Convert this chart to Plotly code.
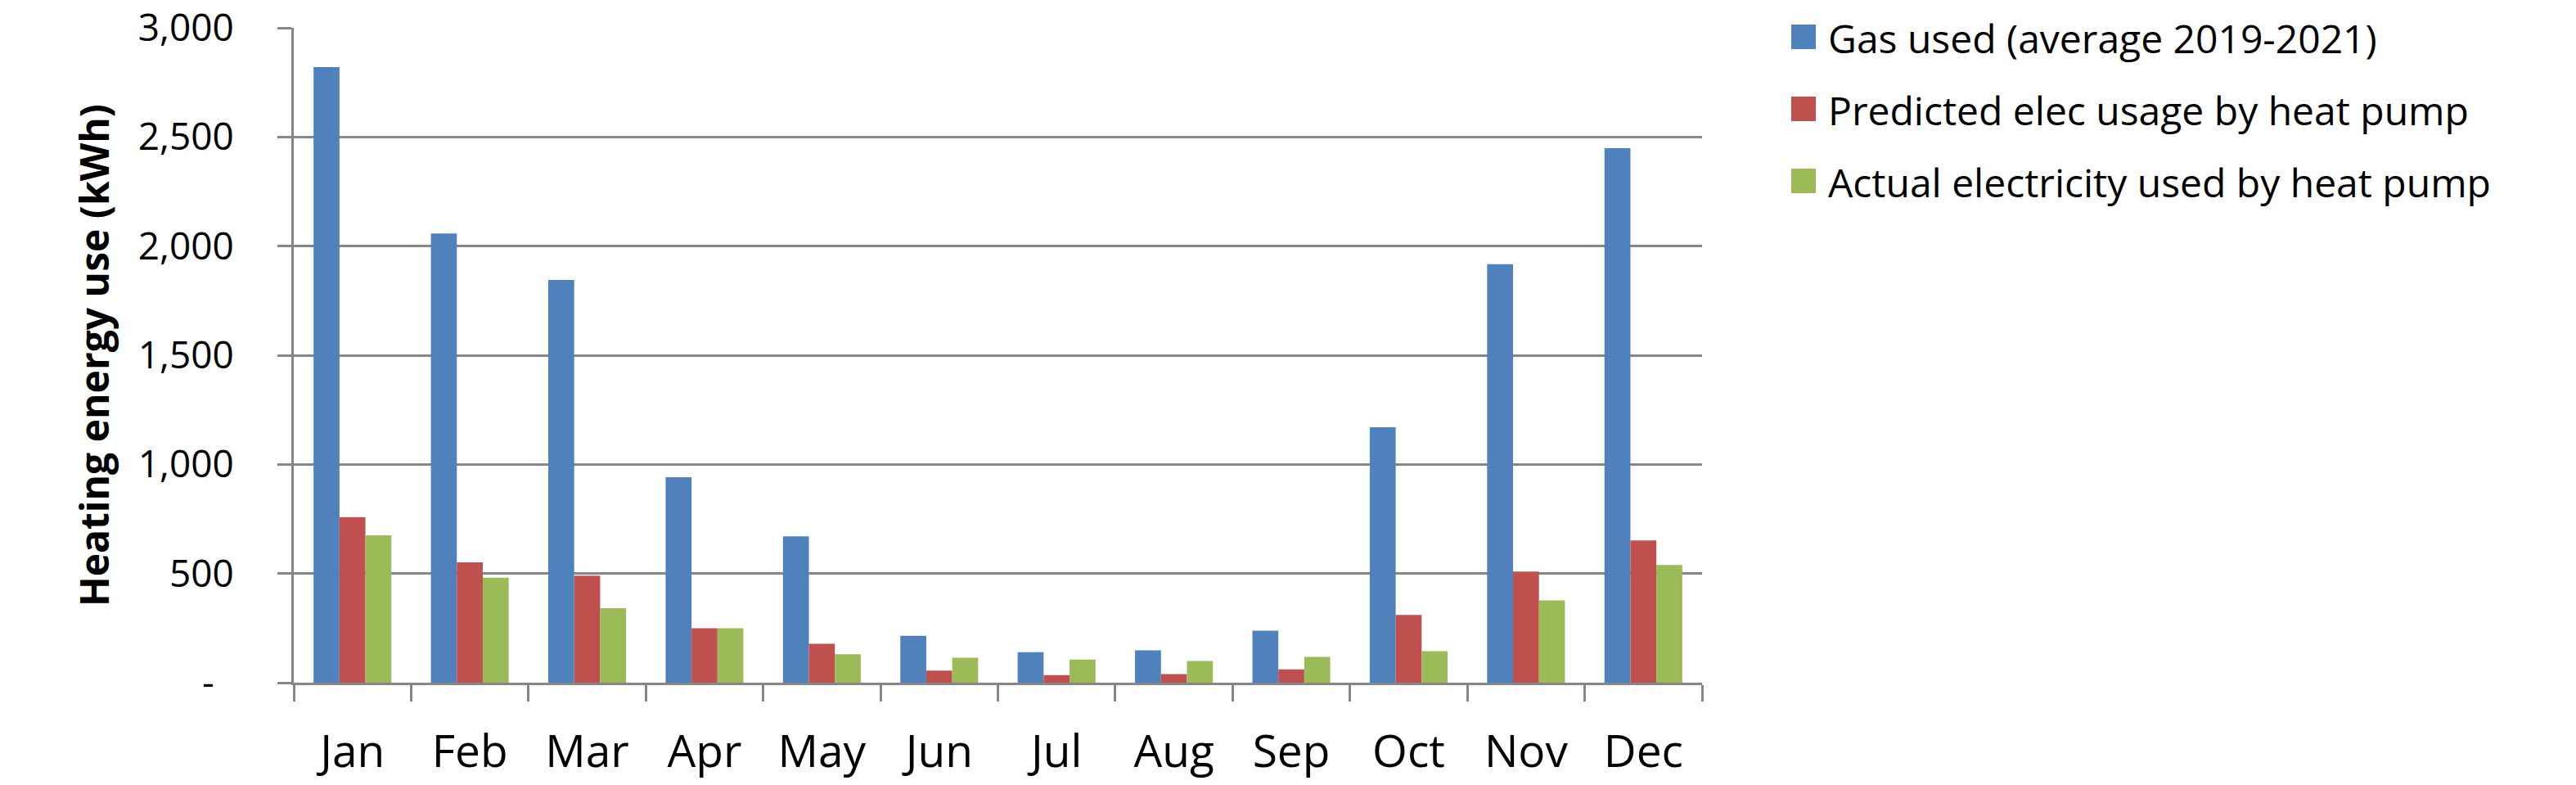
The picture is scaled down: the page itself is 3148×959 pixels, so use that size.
import plotly.graph_objects as go

months = ["Jan", "Feb", "Mar", "Apr", "May", "Jun", "Jul", "Aug", "Sep", "Oct", "Nov", "Dec"]
gas_used = [2820, 2058, 1845, 941, 670, 215, 140, 148, 238, 1170, 1917, 2449]
predicted_elec = [758, 551, 490, 249, 178, 55, 35, 39, 61, 310, 509, 652]
actual_elec = [675, 481, 341, 249, 130, 114, 106, 99, 118, 144, 377, 539]

series_names = [
    "Gas used (average 2019-2021)",
    "Predicted elec usage by heat pump",
    "Actual electricity used by heat pump",
]
series_colors = ["#4F81BD", "#C0504D", "#9BBB59"]

y_tick_values = [0, 500, 1000, 1500, 2000, 2500, 3000]
y_tick_labels = ["-\u00a0\u00a0", "500", "1,000", "1,500", "2,000", "2,500", "3,000"]

W, H = 3148, 959
L, R, T, B = 359, 2080, 34, 834  # plot area in px

FONT = "Open Sans"
GRID = "#868686"

fig = go.Figure()
for name, vals, col in zip(series_names, [gas_used, predicted_elec, actual_elec], series_colors):
    fig.add_trace(go.Bar(x=months, y=vals, name=name, marker=dict(color=col, line=dict(width=0)),
                         showlegend=False))

fig.update_layout(
    template="none",
    width=W, height=H,
    margin=dict(l=L, r=W - R, t=T, b=H - B, pad=0, autoexpand=False),
    paper_bgcolor="white", plot_bgcolor="white",
    barmode="group", bargap=0.337, bargroupgap=0,
    font=dict(family=FONT, color="black"),
    showlegend=False,
)

fig.update_yaxes(
    automargin=False,
    range=[0, 3000], tickvals=y_tick_values, ticktext=y_tick_labels,
    showgrid=True, gridcolor=GRID, gridwidth=3,
    showline=True, linecolor=GRID, linewidth=3,
    ticks="outside", ticklen=17, tickwidth=3, tickcolor=GRID,
    ticklabelstandoff=44,
    tickfont=dict(size=46, family=FONT, color="black"),
    zeroline=False,
    title=dict(text="<b>Heating energy use (kWh)</b>", font=dict(size=48, family=FONT, color="black"),
               standoff=20),
)
fig.update_xaxes(
    automargin=False,
    showline=True, linecolor=GRID, linewidth=3,
    ticks="outside", tickson="boundaries", ticklen=20, tickwidth=3, tickcolor=GRID,
    ticklabelstandoff=34,
    tickfont=dict(size=55, family=FONT, color="black"),
    showgrid=False, zeroline=False,
)

# legend drawn at the right, like the original
def px_x(p):
    return (p - L) / (R - L)

def px_y(p):
    return (B - p) / (B - T)

row_centers = [45, 133, 221]
for name, col, cy in zip(series_names, series_colors, row_centers):
    fig.add_shape(type="rect", xref="paper", yref="paper",
                  x0=px_x(2189), x1=px_x(2219), y0=px_y(cy + 15), y1=px_y(cy - 15),
                  fillcolor=col, line=dict(width=0))
    fig.add_annotation(xref="paper", yref="paper", x=px_x(2232), y=px_y(cy + 2),
                       xanchor="left", yanchor="middle", showarrow=False,
                       text=name, font=dict(size=48, family=FONT, color="black"))

fig.write_html("out.html", config={"displayModeBar": False},
               post_script="document.body.style.margin='0px';")
